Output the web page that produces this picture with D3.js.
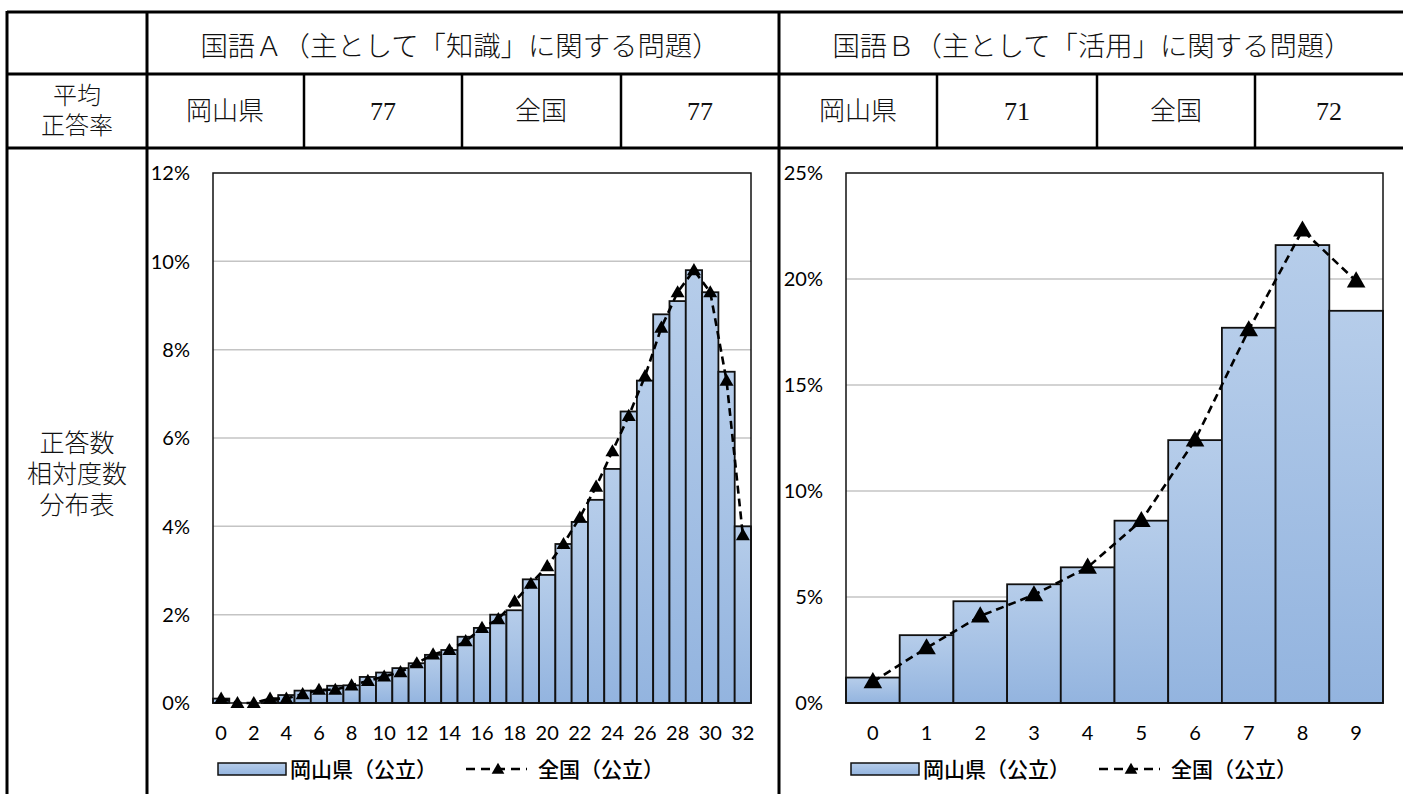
<!DOCTYPE html>
<html>
<head>
<meta charset="utf-8">
<script src="https://cdn.jsdelivr.net/npm/d3@7"></script>
<style>
body { margin: 0; background: #fff; }
</style>
</head>
<body>
<svg width="1403" height="794"></svg>
<script>
// data (percent)
var scoresA = [0,1,2,3,4,5,6,7,8,9,10,11,12,13,14,15,16,17,18,19,20,21,22,23,24,25,26,27,28,29,30,31,32];
var okayamaA = [0.1,0,0,0.05,0.18,0.28,0.28,0.39,0.4,0.59,0.69,0.79,0.9,1.09,1.2,1.5,1.7,2.0,2.1,2.8,2.9,3.6,4.1,4.6,5.3,6.6,7.3,8.8,9.1,9.8,9.3,7.5,4.0];
var zenkokuA = [0.1,0,0,0.1,0.1,0.2,0.3,0.3,0.4,0.5,0.6,0.7,0.9,1.1,1.2,1.4,1.7,1.9,2.3,2.7,3.1,3.6,4.2,4.9,5.7,6.5,7.4,8.5,9.3,9.8,9.3,7.3,3.8];
var xTicksA = [0,2,4,6,8,10,12,14,16,18,20,22,24,26,28,30,32];
var yTicksA = [0,2,4,6,8,10,12];

var scoresB = [0,1,2,3,4,5,6,7,8,9];
var okayamaB = [1.2,3.2,4.8,5.6,6.4,8.6,12.4,17.7,21.6,18.5];
var zenkokuB = [1.0,2.6,4.1,5.1,6.4,8.6,12.4,17.6,22.3,19.9];
var yTicksB = [0,5,10,15,20,25];

var titleA = '国語Ａ（主として「知識」に関する問題）';
var titleB = '国語Ｂ（主として「活用」に関する問題）';
var avgA = ['岡山県','77','全国','77'];
var avgB = ['岡山県','71','全国','72'];
var rowLabel1 = ['平均','正答率'];
var rowLabel2 = ['正答数','相対度数','分布表'];
var legendNames = ['岡山県（公立）','全国（公立）'];

var svg = d3.select('svg');
var serif = '"Liberation Serif","Noto Sans CJK JP",serif';
var jp = '"Noto Sans CJK JP",sans-serif';
var latin = 'Lato,"Noto Sans",sans-serif';

var defs = svg.append('defs');
var grad = defs.append('linearGradient').attr('id','barGrad')
    .attr('x1',0).attr('y1',0).attr('x2',0).attr('y2',1);
grad.append('stop').attr('offset','0%').attr('stop-color','#b6cdea');
grad.append('stop').attr('offset','100%').attr('stop-color','#93b4df');

// ---- charts ----
function drawChart(cats, bars, line, yMax, yTicks, xTicks, left, right, triSize) {
    var top = 173, bottom = 703;
    var x = d3.scaleBand().domain(cats).range([left, right]).padding(0);
    var y = d3.scaleLinear().domain([0, yMax]).range([bottom, top]);
    var g = svg.append('g');

    g.selectAll('.grid')
        .data(yTicks.filter(function(t){ return t > 0 && t < yMax; }))
        .enter().append('line')
        .attr('x1', left).attr('x2', right)
        .attr('y1', function(d){ return y(d); })
        .attr('y2', function(d){ return y(d); })
        .attr('stroke', '#c4c4c4').attr('stroke-width', 1.5);

    g.selectAll('.bar')
        .data(bars)
        .enter().append('rect')
        .attr('x', function(d, i){ return x(cats[i]); })
        .attr('y', function(d){ return y(d); })
        .attr('width', x.bandwidth())
        .attr('height', function(d){ return bottom - y(d); })
        .attr('fill', 'url(#barGrad)')
        .attr('stroke', '#111').attr('stroke-width', 1.8);

    g.append('rect')
        .attr('x', left).attr('y', top)
        .attr('width', right - left).attr('height', bottom - top)
        .attr('fill', 'none').attr('stroke', '#111').attr('stroke-width', 1.5);

    var path = d3.line()
        .x(function(d, i){ return x(cats[i]) + x.bandwidth() / 2; })
        .y(function(d){ return y(d); });
    g.append('path')
        .attr('d', path(line))
        .attr('fill', 'none').attr('stroke', '#000')
        .attr('stroke-width', 2.6).attr('stroke-dasharray', '8,5');

    g.selectAll('.tri')
        .data(line)
        .enter().append('path')
        .attr('d', d3.symbol().type(d3.symbolTriangle).size(triSize))
        .attr('transform', function(d, i){
            return 'translate(' + (x(cats[i]) + x.bandwidth() / 2) + ',' + (y(d) + 1) + ')';
        })
        .attr('fill', '#000');

    g.selectAll('.ytick')
        .data(yTicks)
        .enter().append('text')
        .attr('x', left - 23)
        .attr('y', function(d){ return y(d); })
        .attr('dy', '0.36em')
        .attr('text-anchor', 'end')
        .style('font-family', latin).style('font-size', '20px').attr('fill', '#000')
        .text(function(d){ return d + '%'; });

    g.selectAll('.xtick')
        .data(xTicks)
        .enter().append('text')
        .attr('x', function(d){ return x(d) + x.bandwidth() / 2; })
        .attr('y', 733)
        .attr('dy', '0.36em')
        .attr('text-anchor', 'middle')
        .style('font-family', latin).style('font-size', '20px').attr('fill', '#000')
        .text(function(d){ return d; });

    // legend
    var ly = 769;
    g.append('rect')
        .attr('x', left + 5).attr('y', ly - 6).attr('width', 68).attr('height', 12)
        .attr('fill', 'url(#barGrad)').attr('stroke', '#111').attr('stroke-width', 1.5);
    g.append('text')
        .attr('x', left + 77).attr('y', ly).attr('dy', '0.36em')
        .style('font-family', jp).style('font-size', '21px').style('font-weight', 500).attr('fill', '#000')
        .text(legendNames[0]);
    g.append('line')
        .attr('x1', left + 253).attr('x2', left + 314)
        .attr('y1', ly).attr('y2', ly)
        .attr('stroke', '#000').attr('stroke-width', 2.6).attr('stroke-dasharray', '9,6');
    g.append('path')
        .attr('d', d3.symbol().type(d3.symbolTriangle).size(70))
        .attr('transform', 'translate(' + (left + 285) + ',' + (ly + 1) + ')')
        .attr('fill', '#000');
    g.append('text')
        .attr('x', left + 325).attr('y', ly).attr('dy', '0.36em')
        .style('font-family', jp).style('font-size', '21px').style('font-weight', 500).attr('fill', '#000')
        .text(legendNames[1]);
}

drawChart(scoresA, okayamaA, zenkokuA, 12, yTicksA, xTicksA, 213, 751, 85);
drawChart(scoresB, okayamaB, zenkokuB, 25, yTicksB, scoresB, 846, 1383, 150);

// ---- table frame ----
var frame = svg.append('g').attr('stroke', '#000').attr('fill', 'none');
frame.append('line').attr('x1', 7).attr('x2', 1403).attr('y1', 12).attr('y2', 12).attr('stroke-width', 3);
frame.append('line').attr('x1', 7).attr('x2', 1403).attr('y1', 74).attr('y2', 74).attr('stroke-width', 3);
frame.append('line').attr('x1', 7).attr('x2', 1403).attr('y1', 148).attr('y2', 148).attr('stroke-width', 3);
frame.append('line').attr('x1', 7).attr('x2', 7).attr('y1', 11).attr('y2', 794).attr('stroke-width', 3);
frame.append('line').attr('x1', 147).attr('x2', 147).attr('y1', 11).attr('y2', 794).attr('stroke-width', 3);
frame.append('line').attr('x1', 779).attr('x2', 779).attr('y1', 11).attr('y2', 794).attr('stroke-width', 3);
[304, 462, 621, 937, 1097, 1255].forEach(function(xx){
    frame.append('line').attr('x1', xx).attr('x2', xx).attr('y1', 74).attr('y2', 148).attr('stroke-width', 2.5);
});

// ---- table texts ----
function cellText(txt, cx, cy, size, fam) {
    return svg.append('text')
        .attr('x', cx).attr('y', cy).attr('dy', '0.36em')
        .attr('text-anchor', 'middle')
        .style('font-family', fam).style('font-size', size + 'px').style('font-weight', 300)
        .attr('fill', '#111')
        .text(txt);
}

cellText(titleA, 460, 46, 27, serif).attr('textLength', 519).attr('lengthAdjust', 'spacingAndGlyphs');
cellText(titleB, 1092, 46, 27, serif).attr('textLength', 519).attr('lengthAdjust', 'spacingAndGlyphs');

var cellsA = [225, 383, 541, 700];
var cellsB = [858, 1017, 1176, 1329];
avgA.forEach(function(t, i){ cellText(t, cellsA[i], 111, 26, serif); });
avgB.forEach(function(t, i){ cellText(t, cellsB[i], 111, 26, serif); });

rowLabel1.forEach(function(t, i){ cellText(t, 77, 95 + i * 30, 24, jp); });
rowLabel2.forEach(function(t, i){ cellText(t, 77, 443 + i * 31, 25, jp); });
</script>
</body>
</html>
